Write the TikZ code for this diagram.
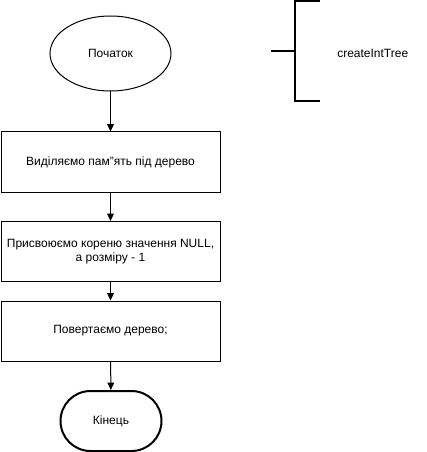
\documentclass[tikz,border=0pt]{standalone}
\usepackage{fontspec}
\setmainfont{Liberation Sans}
\usetikzlibrary{arrows.meta,shapes.geometric,shapes.misc}
\begin{document}
\begin{tikzpicture}[x=0.75pt,y=-0.75pt,
  every node/.style={font=\fontsize{9}{11}\selectfont, inner sep=0pt},
  procbox/.style={draw, line width=0.75pt, minimum width=219*0.75pt, minimum height=60*0.75pt, align=center},
  flow/.style={draw, line width=0.75pt, -{Triangle[length=5.5pt,width=5pt]}},
  bracketline/.style={draw, line width=1.5pt}]
\useasboundingbox[fill=white] (0,0) rectangle (427,452);
\node[draw, ellipse, line width=0.75pt, minimum width=121*0.75pt, minimum height=75*0.75pt] (start) at (110.5,53.5) {Початок};
\node[procbox] (b1) at (110.5,162) {Виділяємо пам"ять під дерево};
\node[procbox] (b2) at (110.5,251.5) {Присвоюємо кореню значення NULL,\\а розміру - 1};
\node[procbox] (b3) at (110.5,331) {Повертаємо дерево;};
\node[draw, rounded rectangle, line width=1.5pt, minimum width=101*0.75pt, minimum height=60*0.75pt] (end) at (111,421) {Кінець};
\draw[flow] (start) -- (b1);
\draw[flow] (b1) -- (b2);
\draw[flow] (b2) -- (b3);
\draw[flow] (b3) -- (end);
\coordinate (bt) at (320,1.5);
\coordinate (bb) at (320,101);
\coordinate (bm) at (271,51);
\draw[bracketline] (bt) -- (295,1.5) -- (295,101) -- (bb);
\draw[bracketline] (bm) -- (295,51);
\node[anchor=west] (lbl) at (337,53) {createIntTree};
\end{tikzpicture}
\end{document}
